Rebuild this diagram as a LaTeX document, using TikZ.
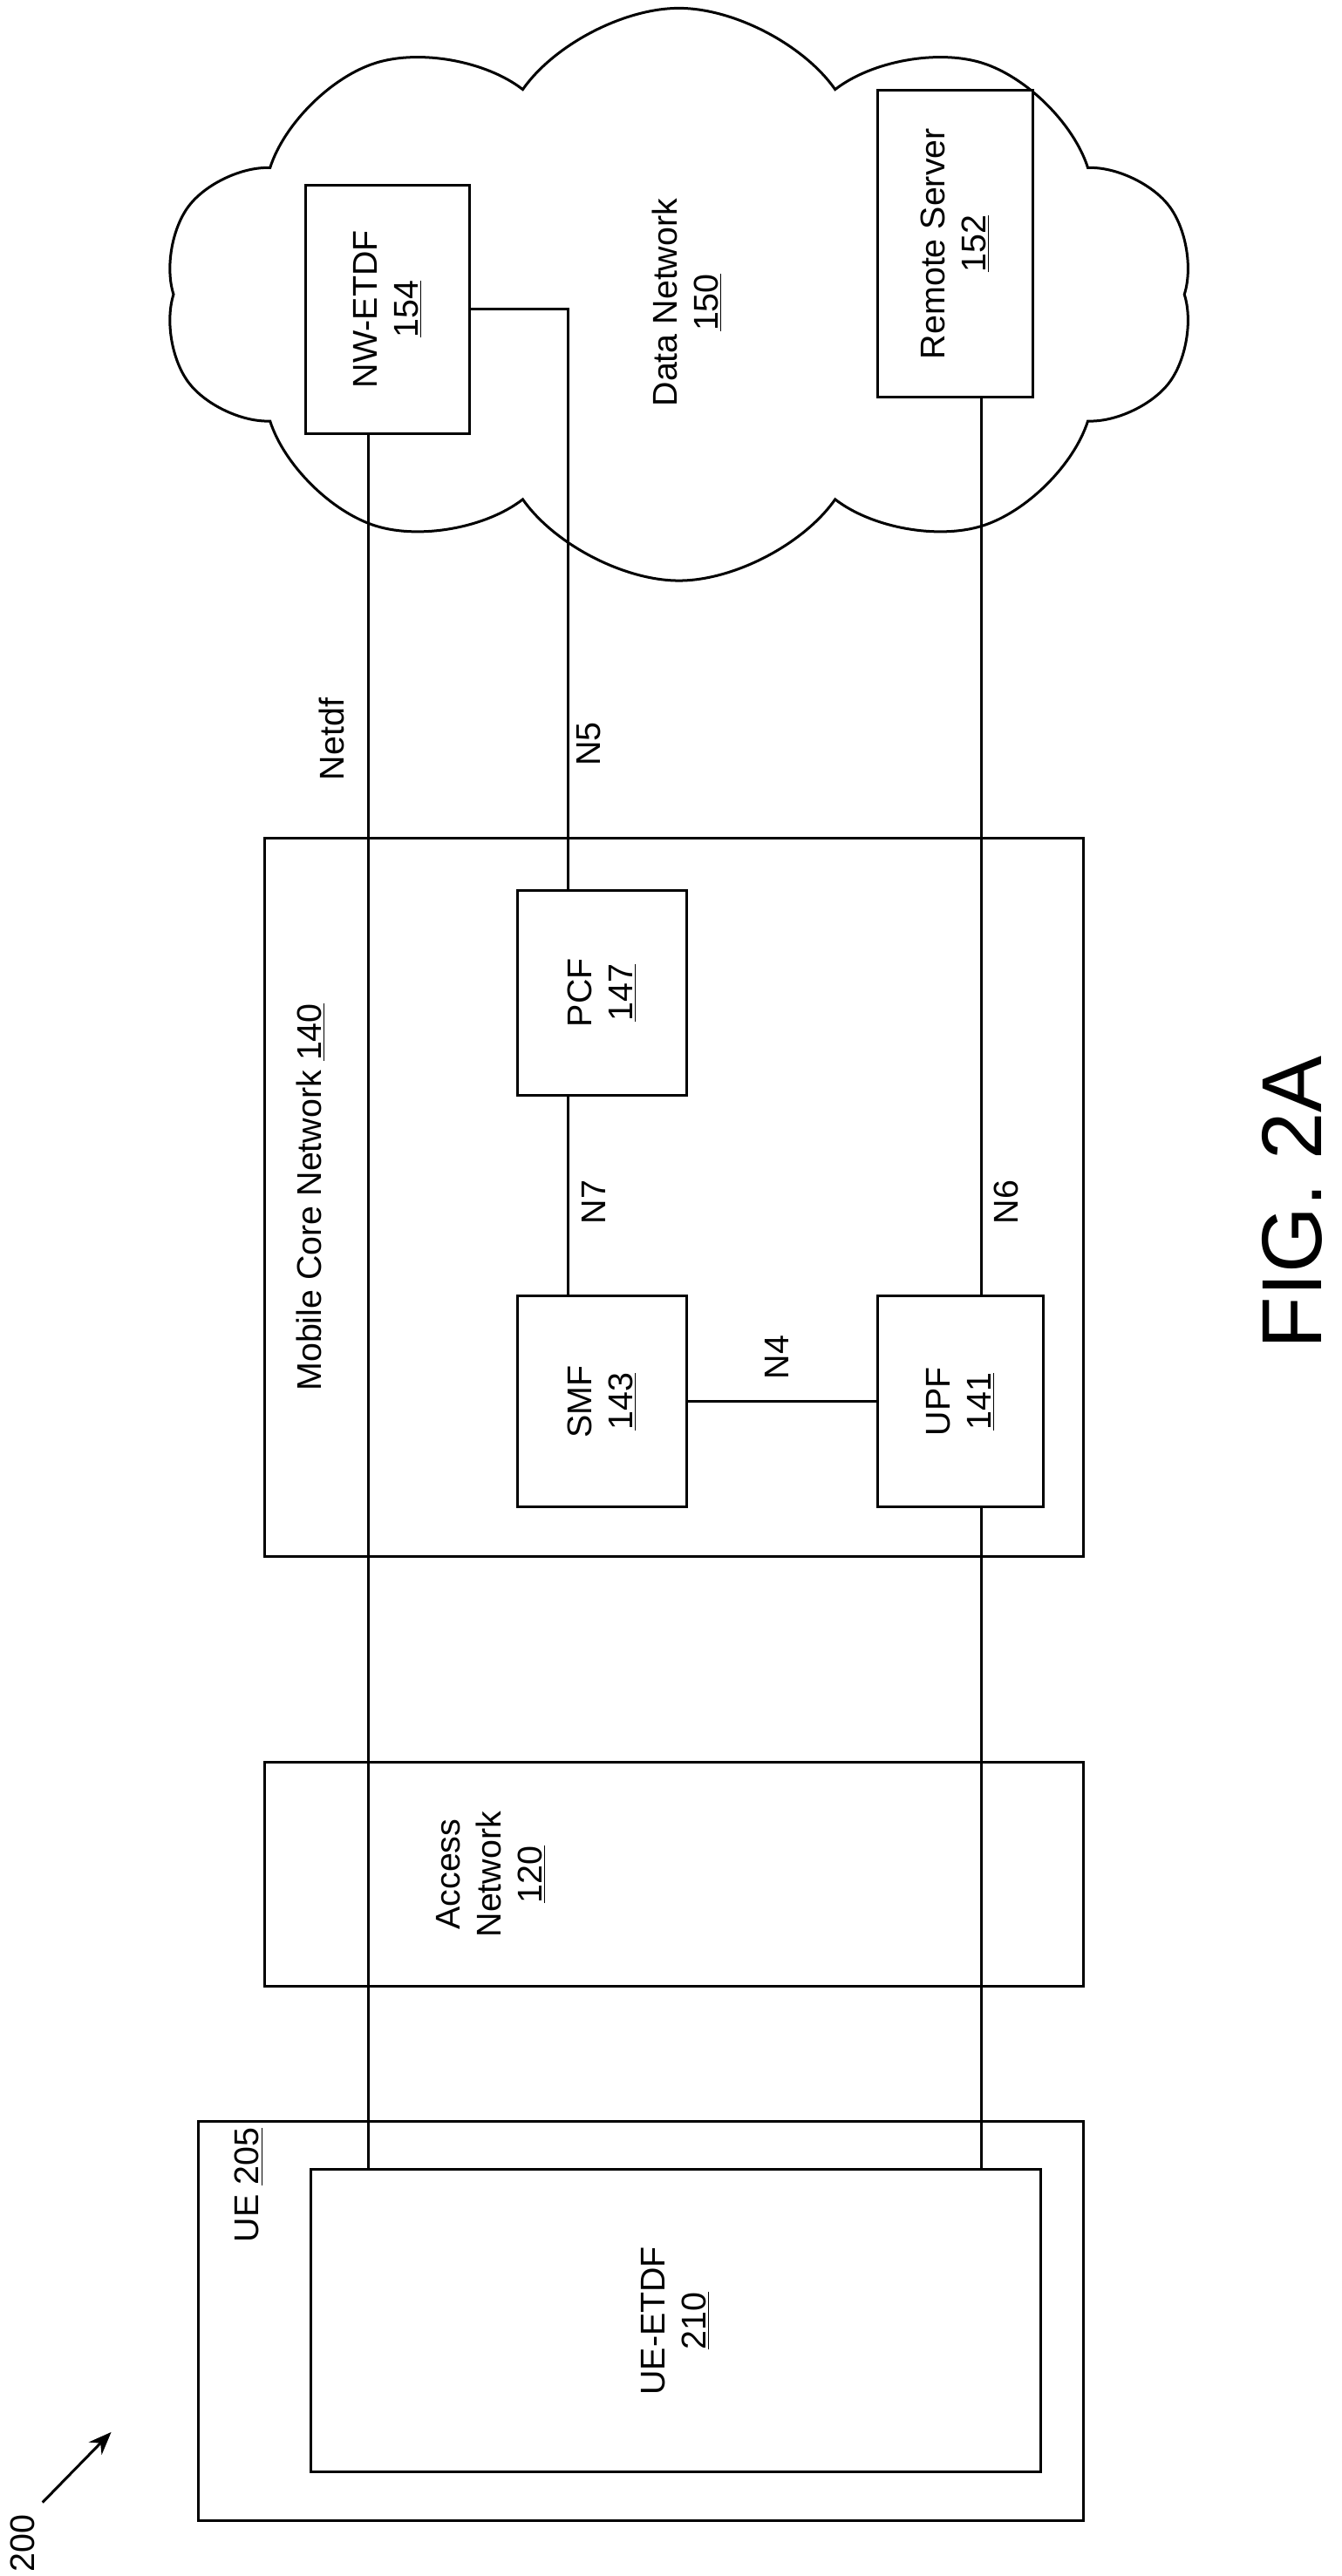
\documentclass[tikz,border=0pt]{standalone}
\usepackage{fontspec}
\setmainfont{Liberation Sans}
\usetikzlibrary{shapes.symbols,arrows.meta}
\begin{document}
\begin{tikzpicture}[x=1pt,y=-1pt,
  box/.style={draw,line width=1.6pt,fill=white},
  lbl/.style={rotate=90,font=\fontsize{21}{25}\selectfont,align=center},
  ln/.style={line width=1.6pt}]
\useasboundingbox (0,0) rectangle (820,1575);
\node[cloud,draw,line width=1.6pt,cloud puffs=10,cloud puff arc=110,aspect=1.8,minimum width=630pt,minimum height=350pt,inner sep=0pt] (cloud) at (415,180) {};
\node[box,minimum width=100pt,minimum height=152pt] (nw) at (237,189) {};
\node[lbl] at (nw) {NW-ETDF\\\underline{154}};
\node[box,minimum width=95pt,minimum height=188pt] (rs) at (584,149) {};
\node[lbl] at (rs) {Remote Server\\\underline{152}};
\node[lbl] (dn) at (420,185) {Data Network\\\underline{150}};
\node[box,minimum width=501pt,minimum height=439pt] (mcn) at (412,732) {};
\node[lbl] (mcnl) at (190,732) {Mobile Core Network \underline{140}};
\node[box,minimum width=103pt,minimum height=125pt] (pcf) at (368,607) {};
\node[lbl] at (pcf) {PCF\\\underline{147}};
\node[box,minimum width=103pt,minimum height=129pt] (smf) at (368,857) {};
\node[lbl] at (smf) {SMF\\\underline{143}};
\node[box,minimum width=101pt,minimum height=129pt] (upf) at (587,857) {};
\node[lbl] at (upf) {UPF\\\underline{141}};
\node[box,minimum width=501pt,minimum height=137pt] (an) at (412,1146) {};
\node[lbl] at (300,1146) {Access\\Network\\\underline{120}};
\node[box,minimum width=541pt,minimum height=244pt] (ue) at (392,1419) {};
\node[lbl] at (152,1336) {UE \underline{205}};
\node[box,minimum width=446pt,minimum height=185pt] (uee) at (413,1419) {};
\node[lbl] at (uee) {UE-ETDF\\\underline{210}};
\coordinate (c1) at (347,189);
\draw[ln] (nw.east) -- (c1) -- (pcf.north -| c1);
\draw[ln] (pcf.south -| c1) -- (smf.north -| c1);
\draw[ln] (smf.east) -- (upf.west);
\draw[ln] (upf.north -| 600,0) -- (rs.south -| 600,0);
\draw[ln] (upf.south -| 600,0) -- (uee.north -| 600,0);
\draw[ln] (nw.south -| 225,0) -- (uee.north -| 225,0);
\node[lbl] at (203,452) {Netdf};
\node[lbl] at (360,455) {N5};
\node[lbl] at (363,735) {N7};
\node[lbl] at (615,735) {N6};
\node[lbl] at (475,830) {N4};
\node[rotate=90,font=\fontsize{52}{60}\selectfont] at (790,735) {FIG. 2A};
\node[lbl] (n200) at (14,1555) {200};
\coordinate (a1) at (68,1487);
\draw[ln,-{Stealth[length=14pt,width=11pt]}] (26,1530) -- (a1);
\end{tikzpicture}
\end{document}
